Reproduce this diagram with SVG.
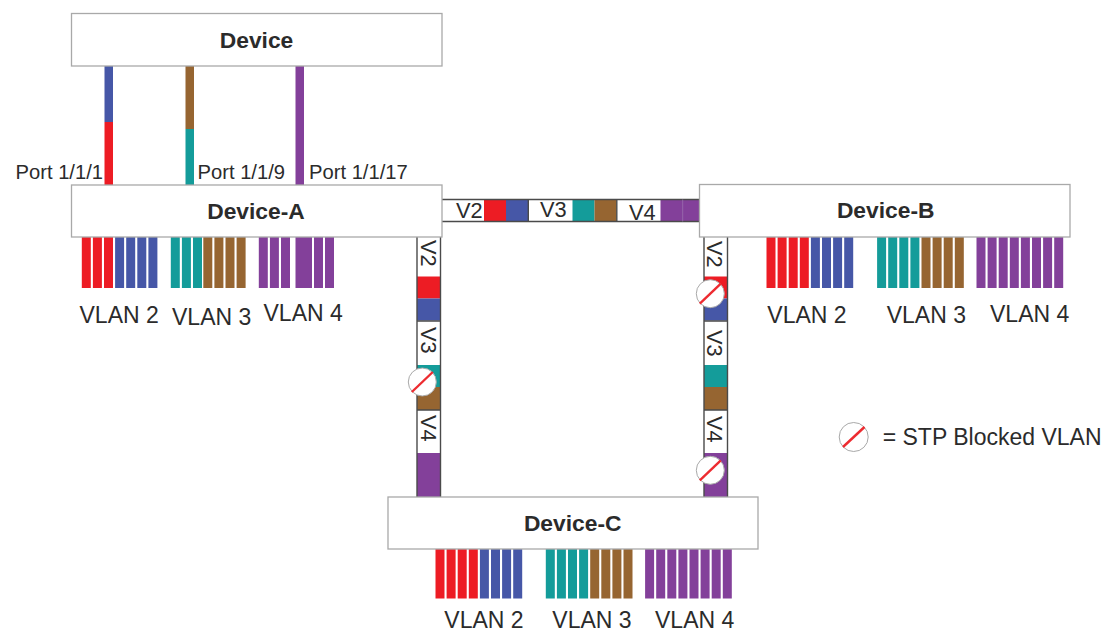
<svg xmlns="http://www.w3.org/2000/svg" width="1113" height="633" viewBox="0 0 1113 633">
<style>
text{font-family:"Liberation Sans",Arial,sans-serif;fill:#2b2b2b}
.t{font-size:23px}
.p{font-size:20.2px}
.n{font-size:22.8px;font-weight:bold;text-anchor:middle}
.v{font-size:21.8px}
.box{fill:#fff;stroke:#a9a9a9;stroke-width:1.3}
.r{fill:#ed1c24}.b{fill:#4657a7}.g{fill:#149c9a}.o{fill:#966531}.u{fill:#83409a}
.w{fill:#fff}
.edge{fill:none;stroke:#4a4a4a;stroke-width:1.4}
.c{fill:#fff;stroke:#a9a9a9;stroke-width:1}
.s{stroke:#ed2b30;stroke-width:2.4;fill:none}
</style>
<defs>
<g id="bar4"><rect x="-.2" width="9" height="51"/><rect x="10.9" width="9" height="51"/><rect x="22" width="9" height="51"/><rect x="33.1" width="9" height="51"/></g>
<g id="bar3"><rect x="-.2" width="9" height="51"/><rect x="10.9" width="9" height="51"/><rect x="22" width="9" height="51"/></g>
<g id="bk"><circle class="c" r="14"/><line class="s" x1="-10.5" y1="10" x2="10.5" y2="-10"/></g>
</defs>

<g id="connectors">
<g id="device-to-a">
<rect class="b" x="104.5" y="66" width="8.5" height="56"/><rect class="r" x="104.5" y="122" width="8.5" height="63"/>
<rect class="o" x="185.5" y="66" width="8.5" height="63"/><rect class="g" x="185.5" y="129" width="8.5" height="56"/>
<rect class="u" x="295.5" y="66" width="8.5" height="119"/>
</g>
<g id="link-a-b">
<rect class="w" x="442" y="199.5" width="258" height="22"/>
<rect class="r" x="484" y="199.5" width="22" height="22"/><rect class="b" x="506" y="199.5" width="22" height="22"/>
<rect class="g" x="572.5" y="199.5" width="22" height="22"/><rect class="o" x="594.5" y="199.5" width="22" height="22"/>
<rect class="u" x="660.5" y="199.5" width="40" height="22"/>
<path class="edge" d="M442 199.5H700M442 221.5H700M528.3 199.5V221.5M616.8 199.5V221.5"/>
<path d="M682.7 199.5V221.5" stroke="#9a6fae" stroke-width=".8"/>
<text class="v" x="456" y="218">V2</text><text class="v" x="540" y="217">V3</text><text class="v" x="629" y="220">V4</text>
</g>
<g id="link-a-c">
<rect class="w" x="417" y="237" width="23.5" height="260"/>
<rect class="r" x="417" y="276.5" width="23.5" height="22"/><rect class="b" x="417" y="298.5" width="23.5" height="22"/>
<rect class="g" x="417" y="365" width="23.5" height="22"/><rect class="o" x="417" y="387" width="23.5" height="23"/>
<rect class="u" x="417" y="453" width="23.5" height="44"/>
<path class="edge" d="M417 237V497M440.5 237V497M417 321H440.5M417 410H440.5"/>
<text class="v" transform="translate(421 240) rotate(90)">V2</text>
<text class="v" transform="translate(421 327) rotate(90)">V3</text>
<text class="v" transform="translate(421 415) rotate(90)">V4</text>
</g>
<g id="link-b-c">
<rect class="w" x="704" y="237" width="23.5" height="260"/>
<rect class="r" x="704" y="276.5" width="23.5" height="22"/><rect class="b" x="704" y="298.5" width="23.5" height="22"/>
<rect class="g" x="704" y="365" width="23.5" height="22"/><rect class="o" x="704" y="387" width="23.5" height="23"/>
<rect class="u" x="704" y="453" width="23.5" height="44"/>
<path class="edge" d="M704 237V497M727.5 237V497M704 321H727.5M704 410H727.5"/>
<text class="v" transform="translate(707 241) rotate(90)">V2</text>
<text class="v" transform="translate(707 330) rotate(90)">V3</text>
<text class="v" transform="translate(707 416) rotate(90)">V4</text>
</g>
<use href="#bk" x="422.3" y="382"/>
<use href="#bk" x="710.3" y="293.7"/>
<use href="#bk" x="710.3" y="470.3"/>
</g>

<g id="device">
<rect class="box" x="71.5" y="13.5" width="370.5" height="52.5"/>
<text class="n" x="256.5" y="48">Device</text>
</g>

<g id="device-a">
<g transform="translate(0 237)">
<use href="#bar3" class="r" x="82"/><use href="#bar4" class="b" x="115.3"/>
<use href="#bar3" class="g" x="171"/><use href="#bar4" class="o" x="203.5"/>
<use href="#bar3" class="u" x="259"/><rect class="u" x="295.5" width="16.5" height="51"/><rect class="u" x="314" width="9" height="51"/><rect class="u" x="325" width="9" height="51"/>
</g>
<rect class="box" x="71.5" y="185" width="370.5" height="52"/>
<text class="n" x="256" y="218.7">Device-A</text>
<text class="p" x="15.5" y="179">Port 1/1/1</text>
<text class="p" x="197.5" y="179">Port 1/1/9</text>
<text class="p" x="309" y="179">Port 1/1/17</text>
<text class="t" x="79.5" y="322.7">VLAN 2</text>
<text class="t" x="172" y="324.7">VLAN 3</text>
<text class="t" x="263.5" y="321.3">VLAN 4</text>
</g>

<g id="device-b">
<g transform="translate(0 237)">
<use href="#bar4" class="r" x="766.7"/><use href="#bar4" class="b" x="811.1"/>
<use href="#bar4" class="g" x="877.3"/><use href="#bar4" class="o" x="921.7"/>
<use href="#bar4" class="u" x="976.7"/><use href="#bar4" class="u" x="1021.1"/>
</g>
<rect class="box" x="699.5" y="184.5" width="370.5" height="52.5"/>
<text class="n" x="885.7" y="218.3">Device-B</text>
<text class="t" x="767.3" y="323.3">VLAN 2</text>
<text class="t" x="886.7" y="323.3">VLAN 3</text>
<text class="t" x="990" y="321.7">VLAN 4</text>
</g>

<g id="device-c">
<g transform="translate(0 547.5)">
<use href="#bar4" class="r" x="435.7"/><use href="#bar4" class="b" x="480.1"/>
<use href="#bar4" class="g" x="546"/><use href="#bar4" class="o" x="590.4"/>
<use href="#bar4" class="u" x="645.3"/><use href="#bar4" class="u" x="689.7"/>
</g>
<rect class="box" x="388" y="497" width="370" height="52"/>
<text class="n" x="572.7" y="530.7">Device-C</text>
<text class="t" x="444.3" y="628">VLAN 2</text>
<text class="t" x="552.3" y="628">VLAN 3</text>
<text class="t" x="655" y="628">VLAN 4</text>
</g>

<g id="legend">
<circle class="c" cx="853.7" cy="437" r="14.5"/><line class="s" x1="843" y1="447" x2="864.5" y2="427"/>
<text class="t" x="882.7" y="445">= STP Blocked VLAN</text>
</g>
</svg>
